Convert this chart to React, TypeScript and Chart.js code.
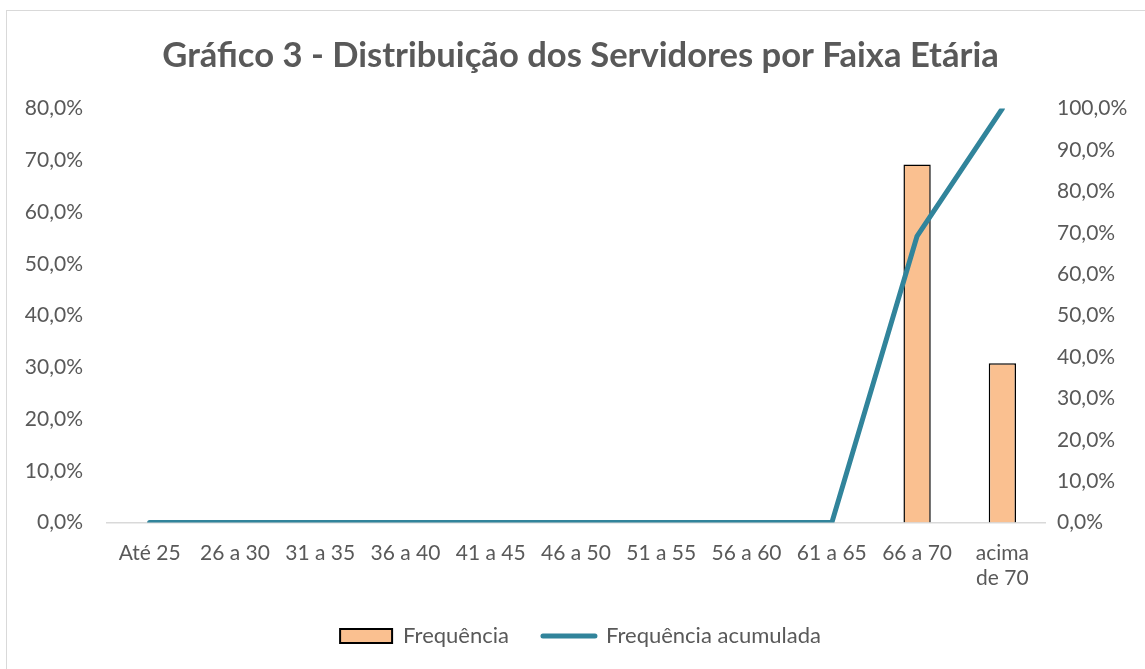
import React, { useEffect, useRef } from "react";
import { Chart, registerables } from "chart.js";

Chart.register(...registerables);

const categories: (string | string[])[] = [
  "Até 25",
  "26 a 30",
  "31 a 35",
  "36 a 40",
  "41 a 45",
  "46 a 50",
  "51 a 55",
  "56 a 60",
  "61 a 65",
  "66 a 70",
  ["acima", "de 70"],
];
const frequencia = [0, 0, 0, 0, 0, 0, 0, 0, 0, 69.2, 30.8];
const acumulada = [0, 0, 0, 0, 0, 0, 0, 0, 0, 69.2, 100];

const titleText = "Gráfico 3 - Distribuição dos Servidores por Faixa Etária";
const FONT = "Lato, 'Open Sans', sans-serif";
const GRAY = "#595959";
const TEAL = "#31849B";
const PEACH = "#FAC090";

const fmt = (v: number | string) => Number(v).toFixed(1).replace(".", ",") + "%";

export default function App() {
  const ref = useRef<HTMLCanvasElement | null>(null);
  useEffect(() => {
    if (!ref.current) return;
    const chart = new Chart(ref.current, {
      type: "bar",
      data: {
        labels: categories,
        datasets: [
          {
            type: "line",
            label: "Frequência acumulada",
            data: acumulada,
            yAxisID: "y1",
            borderColor: TEAL,
            backgroundColor: TEAL,
            borderWidth: 5,
            pointRadius: 0,
            tension: 0,
            borderCapStyle: "round",
            borderJoinStyle: "round",
            order: 0,
          } as any,
          {
            type: "bar",
            label: "Frequência",
            data: frequencia,
            yAxisID: "y",
            backgroundColor: PEACH,
            borderColor: "#000000",
            borderWidth: 1.5,
            barPercentage: 0.32,
            categoryPercentage: 1,
            order: 1,
          },
        ],
      },
      options: {
        animation: false,
        responsive: false,
        maintainAspectRatio: false,
        layout: { padding: { left: 16, right: 0, top: 27, bottom: 12 } },
        plugins: {
          tooltip: { enabled: false },
          title: {
            display: true,
            text: titleText,
            color: GRAY,
            font: { family: FONT, size: 34.6, weight: "bold" },
            padding: { top: 8, bottom: 32 },
          },
          legend: {
            position: "bottom",
            labels: {
              usePointStyle: true,
              pointStyleWidth: 52,
              boxHeight: 14,
              padding: 34,
              color: GRAY,
              font: { family: FONT, size: 22 },
              generateLabels: () => [
                {
                  text: "Frequência",
                  fillStyle: PEACH,
                  strokeStyle: "#000",
                  lineWidth: 2,
                  pointStyle: "rect",
                  datasetIndex: 1,
                  fontColor: GRAY,
                },
                {
                  text: "Frequência acumulada",
                  fillStyle: TEAL,
                  strokeStyle: TEAL,
                  lineWidth: 5,
                  lineCap: "round",
                  pointStyle: "line",
                  datasetIndex: 0,
                  fontColor: GRAY,
                },
              ],
            },
          },
        },
        scales: {
          x: {
            grid: { display: false },
            border: { display: true, color: "#d9d9d9", width: 1.5 },
            afterFit: (s: any) => {
              s.height = s.height - 10;
            },
            ticks: {
              color: GRAY,
              font: { family: FONT, size: 21 },
              maxRotation: 0,
              autoSkip: false,
              padding: 10,
            },
          },
          y: {
            position: "left",
            min: 0,
            max: 80,
            grid: { display: false },
            border: { display: false },
            afterFit: (s: any) => {
              s.width = 91;
            },
            ticks: {
              stepSize: 10,
              color: GRAY,
              font: { family: FONT, size: 21 },
              padding: 16,
              callback: (v: any) => fmt(v),
            },
          },
          y1: {
            position: "right",
            min: 0,
            max: 100,
            grid: { display: false },
            border: { display: false },
            afterFit: (s: any) => {
              s.width = 100;
            },
            ticks: {
              stepSize: 10,
              color: GRAY,
              font: { family: FONT, size: 21 },
              padding: 4,
              callback: (v: any) => fmt(v),
            },
          },
        },
      } as any,
    });
    return () => chart.destroy();
  }, []);

  return (
    <div
      style={{
        position: "fixed",
        left: 0,
        top: 0,
        width: 1145,
        height: 669,
        overflow: "hidden",
        background: "#fff",
      }}
    >
      <canvas
        ref={ref}
        width={1145}
        height={669}
        style={{ position: "absolute", left: 0, top: 0, width: 1145, height: 669 }}
      />
      <div
        style={{
          position: "absolute",
          left: 6,
          top: 10,
          width: 1200,
          height: 700,
          border: "1.5px solid #d9d9d9",
          pointerEvents: "none",
        }}
      />
    </div>
  );
}
